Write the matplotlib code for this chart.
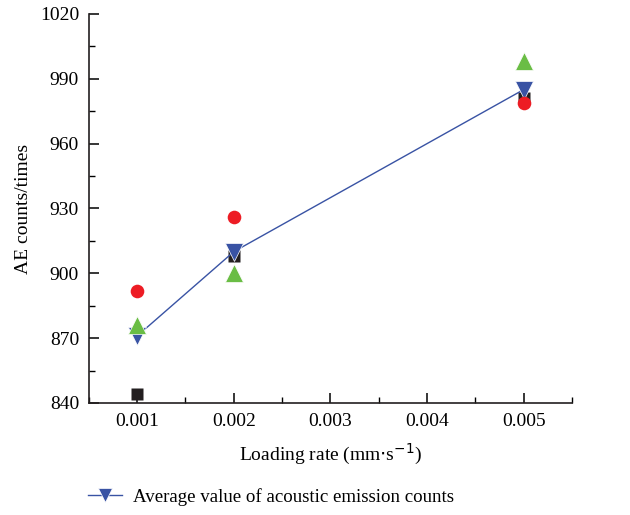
import numpy as np
import matplotlib.pyplot as plt
from matplotlib.ticker import MultipleLocator

plt.rcParams['font.family'] = ['Liberation Serif', 'DejaVu Serif']

rates = [0.001, 0.002, 0.005]
sample1 = [844, 908, 981]   # black squares
sample2 = [892, 926, 979]   # red circles
sample3 = [876, 900, 998]   # green triangles
average = [871, 910, 985]   # blue down triangles

fig = plt.figure(figsize=(6.3, 5.15), dpi=100)
ax = fig.add_axes([0.141, 0.2175, 0.767, 0.7555])

ax.plot(rates, sample1, 's', color='#231F20', ms=8.5, mec='none', zorder=3)
ax.plot(rates, sample2, 'o', color='#ED1C24', ms=9.8, mec='none', zorder=4)
line, = ax.plot(rates, average, '-v', color='#3953A4', lw=1, ms=12.5,
                mec='white', mew=0.5, zorder=3.5,
                label='Average value of acoustic emission counts')
ax.plot(rates, sample3, '^', color='#6ABD45', ms=12.5, mec='white', mew=0.5, zorder=5)

ax.set_xlim(0.0005, 0.0055)
ax.set_ylim(840, 1020)
ax.xaxis.set_minor_locator(MultipleLocator(0.0005))
ax.yaxis.set_major_locator(MultipleLocator(30))
ax.yaxis.set_minor_locator(MultipleLocator(15))
ax.set_xticks([0.001, 0.002, 0.003, 0.004, 0.005])
ax.set_xticklabels(['0.001', '0.002', '0.003', '0.004', '0.005'])

for s in ['top', 'right']:
    ax.spines[s].set_visible(False)
for s in ['left', 'bottom']:
    ax.spines[s].set_linewidth(1.2)
    ax.spines[s].set_color('#231F20')

ax.tick_params(which='major', direction='in', length=7, width=1.1, labelsize=14, pad=7)
ax.tick_params(which='minor', direction='in', length=4, width=1.0)

ax.set_xlabel('Loading rate (mm$\\cdot$s$^{-1}$)', fontsize=14, labelpad=9)
ax.set_ylabel('AE counts/times', fontsize=14, labelpad=6)

fig.legend(handles=[line], loc='center left', bbox_to_anchor=(0.112, 0.035),
           frameon=False, fontsize=13.6, handlelength=1.8, handletextpad=0.6,
           markerscale=0.8)

fig.savefig('out.png', dpi=100)
